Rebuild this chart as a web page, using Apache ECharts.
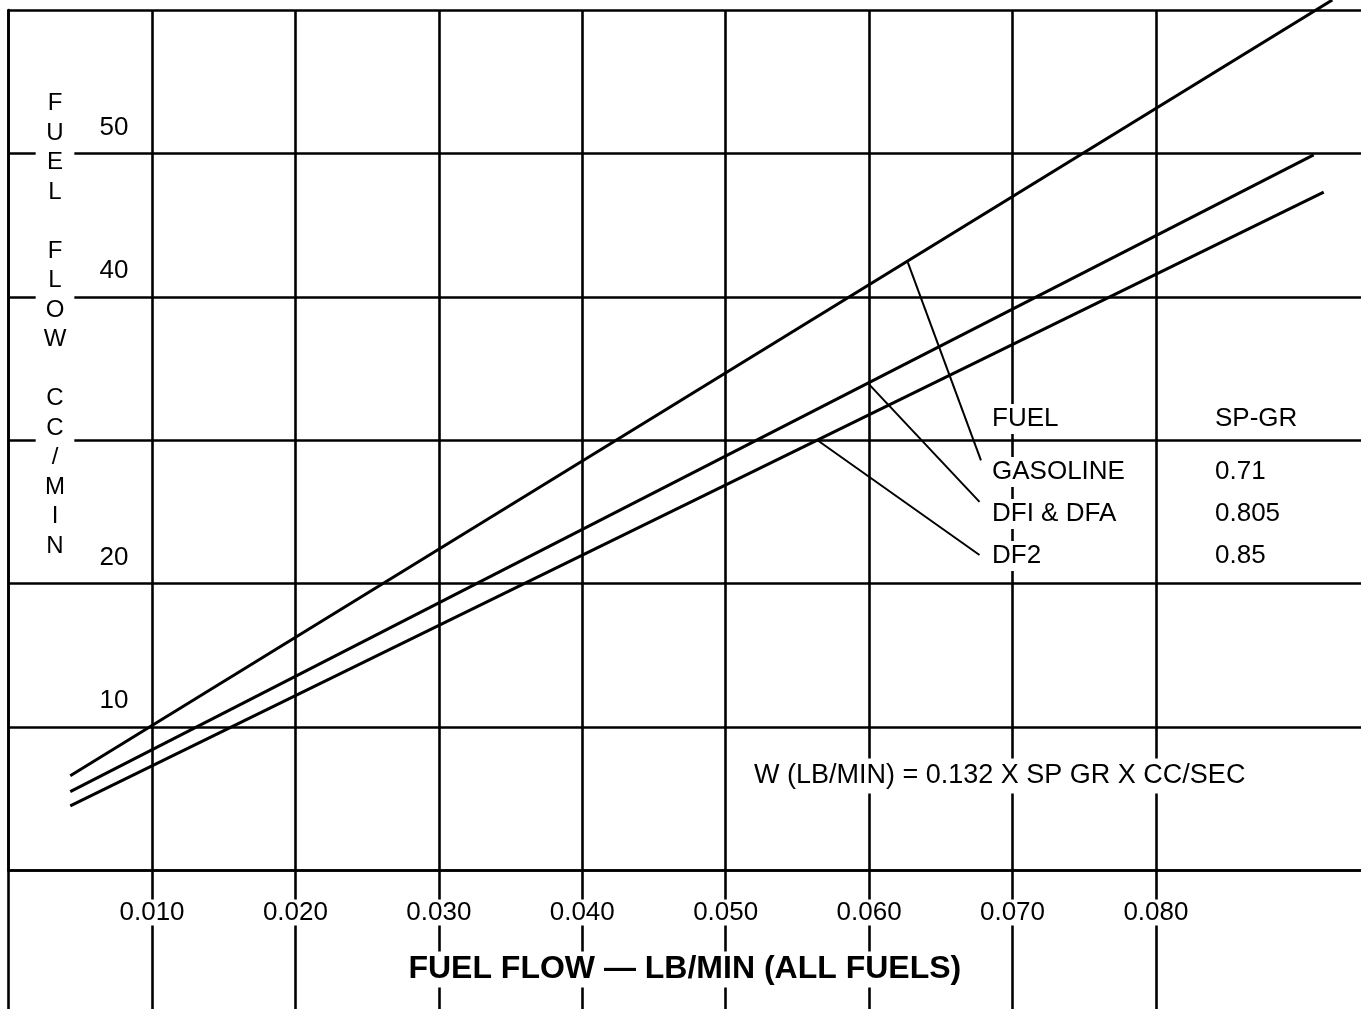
<!DOCTYPE html>
<html>
<head>
<meta charset="utf-8">
<title>Fuel flow conversion</title>
<script src="https://cdn.jsdelivr.net/npm/echarts@6/dist/echarts.min.js"></script>
<style>
  html, body { margin: 0; padding: 0; background: #fff; }
  #chart { width: 1361px; height: 1009px; }
</style>
</head>
<body>
<div id="chart"></div>
<script>
// axis ticks
const xTicks = [0.01, 0.02, 0.03, 0.04, 0.05, 0.06, 0.07, 0.08];
const yLabels = [10, 20, 40, 50];

// fuel lines: lb/min (x) against cc/min (y), end points
const gasolineX = [0.0043, 0.0923];
const gasolineY = [6.6, 60.7];
const dfiX = [0.0043, 0.0910];
const dfiY = [5.5, 49.9];
const df2X = [0.0043, 0.0917];
const df2Y = [4.5, 47.3];

// leader lines from each curve to its name in the table
const gasLeaderX = [0.0627, 0.0678];
const gasLeaderY = [42.4, 28.6];
const dfiLeaderX = [0.0600, 0.0677];
const dfiLeaderY = [33.9, 25.7];
const df2LeaderX = [0.0564, 0.0677];
const df2LeaderY = [30.0, 22.0];

// table text
const fuels = ["GASOLINE", "DFI & DFA", "DF2"];
const spGr = ["0.71", "0.805", "0.85"];

const FONT = "'Liberation Sans', Arial, Helvetica, sans-serif";
const gridLine = { color: "#000", width: 2.6 };

const pairs = (xs, ys) => xs.map((x, i) => [x, ys[i]]);

const lineSeries = (name, xs, ys, w) => ({
  name: name,
  type: "line",
  data: pairs(xs, ys),
  symbol: "none",
  clip: false,
  silent: true,
  lineStyle: { color: "#000", width: w },
  z: 5,
});

const chart = echarts.init(document.getElementById("chart"));

const tableText = (text, x, y) => ({
  type: "text",
  x: x,
  y: y,
  z: 20,
  style: {
    text: text,
    fill: "#000",
    font: "26px " + FONT,
    verticalAlign: "middle",
    align: "left",
    backgroundColor: "#fff",
    padding: [2, 1],
  },
});

const xRange = { type: "value", min: 0, max: 0.0943, interval: 0.01, position: "bottom" };

const option = {
  animation: false,
  backgroundColor: "#fff",
  grid: { left: 8.6, right: 0, top: 10, bottom: 138.5, containLabel: false },
  xAxis: [
    // grid lines, running down through the label strip
    Object.assign({}, xRange, {
      axisLine: { show: true, lineStyle: gridLine },
      axisTick: {
        show: true,
        customValues: [0].concat(xTicks),
        length: 139,
        lineStyle: gridLine,
      },
      splitLine: { show: true, lineStyle: gridLine },
      axisLabel: { show: false },
    }),
    // labels and title on top, masking the lines behind them
    Object.assign({}, xRange, {
      z: 10,
      axisLine: { show: false },
      axisTick: { show: false },
      splitLine: { show: false },
      axisLabel: {
        customValues: xTicks,
        formatter: (v) => v.toFixed(3),
        margin: 29,
        color: "#000",
        fontFamily: FONT,
        fontSize: 26,
        lineHeight: 26,
        backgroundColor: "#fff",
      },
      name: "FUEL FLOW — LB/MIN (ALL FUELS)",
      nameLocation: "middle",
      nameGap: 81,
      nameTextStyle: {
        color: "#000",
        fontFamily: FONT,
        fontWeight: "bold",
        fontSize: 32,
        lineHeight: 32,
        backgroundColor: "#fff",
        padding: [2, 6],
      },
    }),
  ],
  yAxis: {
    type: "value",
    min: 0,
    max: 60,
    interval: 10,
    axisLine: { show: true, lineStyle: gridLine },
    axisTick: { show: false },
    splitLine: { show: true, lineStyle: gridLine },
    axisLabel: {
      customValues: yLabels,
      inside: true,
      margin: 91,
      verticalAlign: "bottom",
      padding: [0, 0, 13, 0],
      lineHeight: 26,
      color: "#000",
      fontFamily: FONT,
      fontSize: 26,
    },
  },
  series: [
    lineSeries("GASOLINE", gasolineX, gasolineY, 3),
    lineSeries("DFI & DFA", dfiX, dfiY, 3),
    lineSeries("DF2", df2X, df2Y, 3),
    lineSeries("gas leader", gasLeaderX, gasLeaderY, 2),
    lineSeries("dfi leader", dfiLeaderX, dfiLeaderY, 2),
    lineSeries("df2 leader", df2LeaderX, df2LeaderY, 2),
  ],
  graphic: [
    {
      type: "text",
      x: 55,
      y: 85,
      z: 20,
      style: {
        text: "FUEL FLOW CC/MIN".split("").join("\n"),
        fill: "#000",
        font: "24px " + FONT,
        lineHeight: 29.5,
        align: "center",
        verticalAlign: "top",
        backgroundColor: "#fff",
        padding: [4, 8],
      },
    },
    tableText("FUEL", 991, 419),
    tableText("SP-GR", 1214, 419),
    tableText(fuels[0], 991, 472),
    tableText(fuels[1], 991, 514),
    tableText(fuels[2], 991, 556),
    tableText(spGr[0], 1214, 472),
    tableText(spGr[1], 1214, 514),
    tableText(spGr[2], 1214, 556),
    {
      type: "text",
      x: 753,
      y: 776,
      z: 20,
      style: {
        text: "W (LB/MIN) = 0.132 X SP GR X CC/SEC",
        fill: "#000",
        font: "27px " + FONT,
        verticalAlign: "middle",
        align: "left",
        backgroundColor: "#fff",
        padding: [4, 1],
      },
    },
  ],
};

chart.setOption(option);
</script>
</body>
</html>
